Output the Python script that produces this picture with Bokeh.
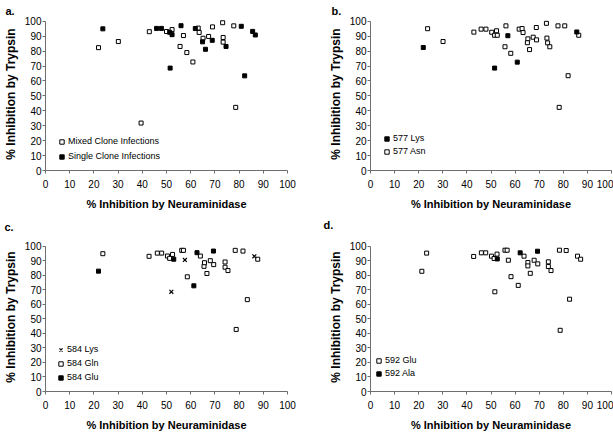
from bokeh.plotting import figure
from bokeh.layouts import gridplot
from bokeh.models import Legend, LegendItem, Range1d, FixedTicker
from bokeh.embed import file_html
from bokeh.resources import INLINE

# ---------------- data ----------------
TICKS = [0, 10, 20, 30, 40, 50, 60, 70, 80, 90, 100]
X_TITLE = "% Inhibition by Neuraminidase"
Y_TITLE = "% Inhibition by Trypsin"

# panel a
a_mixed_x = [21.9, 30.1, 39.5, 42.9, 50.0, 52.3, 57.0, 55.6, 58.4, 60.9, 63.1, 63.5, 65.1, 67.4, 69.0, 73.2, 73.4, 73.4, 77.8, 78.6]
a_mixed_y = [82.3, 86.4, 31.8, 93.0, 93.1, 94.4, 90.4, 83.1, 79.0, 72.7, 95.4, 92.5, 88.6, 89.8, 96.2, 99.0, 89.1, 86.0, 96.9, 42.3]
a_single_x = [23.7, 45.9, 47.9, 51.3, 52.3, 51.5, 56.0, 61.9, 64.9, 66.1, 68.9, 74.6, 80.9, 82.3, 85.6, 86.7]
a_single_y = [94.9, 95.2, 95.2, 92.6, 91.0, 68.6, 97.0, 95.1, 86.2, 81.2, 87.2, 83.1, 96.6, 63.4, 93.2, 90.8]

# panel b
b_lys_x = [21.9, 51.5, 57.0, 60.9, 85.6]
b_lys_y = [82.4, 68.6, 90.3, 72.6, 92.8]
b_asn_x = [23.7, 30.1, 42.9, 45.9, 47.9, 50.3, 51.5, 52.3, 52.6, 56.2, 55.8, 58.2, 61.7, 62.9, 63.3,
           65.3, 65.1, 66.0, 67.5, 68.8, 68.9, 73.0, 73.2, 73.5, 74.4, 77.8, 80.6, 82.0, 78.3, 86.4]
b_asn_y = [95.0, 86.4, 92.7, 94.7, 94.7, 92.6, 90.6, 93.6, 90.6, 96.9, 82.9, 78.5, 94.7, 95.1, 92.4,
           88.2, 85.6, 81.0, 89.3, 95.8, 87.5, 98.6, 88.7, 85.5, 82.9, 96.9, 96.9, 63.5, 42.3, 90.6]

# panel c
c_lys_x = [52.0, 57.6, 86.3]
c_lys_y = [68.6, 90.5, 93.0]
c_gln_x = [23.7, 42.8, 46.2, 48.0, 50.4, 51.3, 52.5, 56.3, 57.0, 58.6, 64.0, 65.5, 65.7, 66.7, 68.1,
           69.5, 74.2, 74.2, 75.4, 78.4, 81.6, 83.4, 78.8, 87.7]
c_gln_y = [94.8, 93.0, 95.2, 95.2, 93.2, 91.6, 94.3, 97.1, 97.1, 78.9, 93.2, 86.1, 88.6, 81.2, 90.0,
           87.3, 89.1, 85.5, 83.2, 97.1, 96.6, 63.2, 42.7, 91.0]
c_glu_x = [21.9, 53.0, 61.3, 62.6, 69.4]
c_glu_y = [82.8, 91.0, 72.7, 95.5, 96.6]

# panel d
d_glu_x = [21.3, 23.3, 42.8, 46.0, 47.8, 50.2, 51.3, 52.5, 51.6, 55.8, 56.7, 57.2, 58.3, 61.3, 63.7,
           65.3, 65.3, 66.3, 67.9, 69.4, 73.8, 73.8, 74.9, 78.4, 81.2, 82.6, 78.7, 85.9, 87.2]
d_glu_y = [82.7, 95.2, 92.9, 95.4, 95.4, 93.1, 91.5, 94.5, 68.6, 97.2, 97.2, 90.3, 79.0, 73.0, 93.1,
           88.7, 86.4, 81.3, 90.3, 87.8, 89.2, 86.0, 83.2, 97.2, 97.0, 63.5, 42.1, 93.1, 91.0]
d_ala_x = [52.6, 62.1, 69.3]
d_ala_y = [91.2, 95.4, 96.5]

# ---------------- styling ----------------
FONT = "Liberation Sans"
AXIS_COLOR = "#6e6e6e"


def make_fig(letter, width, height, bl, br, bt, bb, title_offset, line_h):
    p = figure(width=width, height=height, output_backend="svg", toolbar_location=None,
               x_range=Range1d(0, 100), y_range=Range1d(0, 102.5),
               min_border_left=bl, min_border_right=br, min_border_top=bt, min_border_bottom=bb,
               x_axis_label=X_TITLE, y_axis_label=Y_TITLE, title=letter)
    p.title.align = "left"
    p.title.vertical_align = "bottom"
    p.title.offset = title_offset
    p.title.standoff = 2
    p.title.text_font = FONT
    p.title.text_font_size = "11px"
    p.title.text_font_style = "bold"
    p.title.text_color = "black"
    p.title.text_line_height = line_h
    p.outline_line_color = None
    p.grid.visible = False
    for ax in (p.xaxis[0], p.yaxis[0]):
        ax.ticker = FixedTicker(ticks=TICKS)
        ax.bounds = (0, 100)
        ax.axis_line_color = AXIS_COLOR
        ax.major_tick_line_color = AXIS_COLOR
        ax.minor_tick_line_color = None
        ax.major_tick_in = 0
        ax.major_tick_out = 3
        ax.major_label_text_font = FONT
        ax.major_label_text_font_size = "10px"
        ax.major_label_text_color = "black"
        ax.axis_label_text_font = FONT
        ax.axis_label_text_font_style = "bold"
        ax.axis_label_text_color = "black"
    p.xaxis.major_label_standoff = 6
    p.xaxis.axis_label_standoff = 7
    p.xaxis.axis_label_text_font_size = "11px"
    p.yaxis.major_label_standoff = 1
    p.yaxis.axis_label_standoff = 4
    p.yaxis.axis_label_text_font_size = "12px"
    return p


def open_sq(p, x, y):
    return p.scatter(x, y, marker="square", size=4, fill_color="white", line_color="black", line_width=1)


def fill_sq(p, x, y):
    return p.scatter(x, y, marker="square", size=4, fill_color="black", line_color="black", line_width=1)


def cross(p, x, y):
    return p.scatter(x, y, marker="x", size=5.5, line_color="black", line_width=1.2)


def add_legend(p, items, loc, spacing):
    lg = Legend(items=[LegendItem(label=t, renderers=[r]) for t, r in items],
                location=loc, orientation="vertical", background_fill_alpha=0,
                border_line_color=None, padding=0, margin=0, spacing=spacing,
                glyph_width=11, glyph_height=11, label_height=12, label_standoff=1,
                label_text_font=FONT, label_text_font_size="9px", label_text_color="black")
    p.add_layout(lg)


# panel a
pa = make_fig("a.", 306, 215, 44, 19, 17, 45, -40, 1.2)
ra1 = open_sq(pa, a_mixed_x, a_mixed_y)
ra2 = fill_sq(pa, a_single_x, a_single_y)
add_legend(pa, [("Mixed Clone Infections", ra1), ("Single Clone Infections", ra2)], (11, 8), 3)

# panel b
pb = make_fig("b.", 307, 215, 64, 2, 17, 45, -39, 1.2)
rb2 = open_sq(pb, b_asn_x, b_asn_y)
rb1 = fill_sq(pb, b_lys_x, b_lys_y)
add_legend(pb, [("577 Lys", rb1), ("577 Asn", rb2)], (11, 13), 1)

# panel c  (second, empty title line lifts the letter away from the frame)
pc = make_fig("c.\n", 306, 218, 44, 19, 26, 42, -41, 0.75)
rc2 = open_sq(pc, c_gln_x, c_gln_y)
rc3 = fill_sq(pc, c_glu_x, c_glu_y)
rc1 = cross(pc, c_lys_x, c_lys_y)
add_legend(pc, [("584 Lys", rc1), ("584 Gln", rc2), ("584 Glu", rc3)], (10, 8), 2)

# panel d
pd = make_fig("d.\n", 307, 218, 64, 2, 26, 42, -47, 0.9)
rd1 = open_sq(pd, d_glu_x, d_glu_y)
rd2 = fill_sq(pd, d_ala_x, d_ala_y)
add_legend(pd, [("592 Glu", rd1), ("592 Ala", rd2)], (3, 12), 1)

grid = gridplot([[pa, pb], [pc, pd]], toolbar_location=None)

open("out.html", "w").write(file_html(grid, INLINE))
